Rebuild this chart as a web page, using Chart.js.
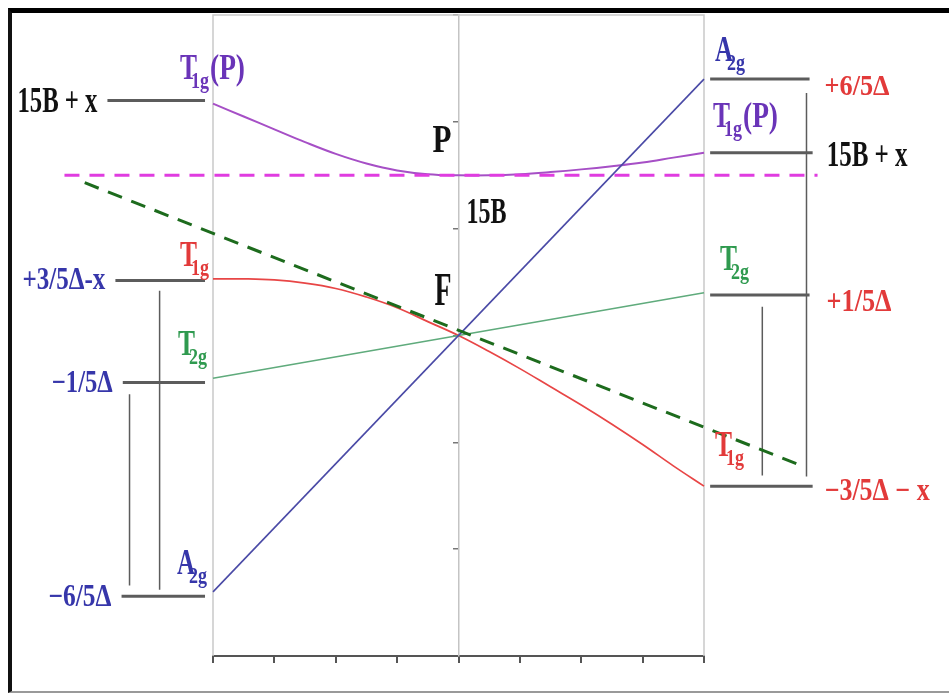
<!DOCTYPE html>
<html>
<head>
<meta charset="utf-8">
<script src="https://cdn.jsdelivr.net/npm/chart.js@4/dist/chart.umd.min.js"></script>
<style>
  html, body { margin: 0; padding: 0; background: #fff; overflow: hidden; }
  #wrap { position: relative; width: 949px; height: 694px; }
  #frame { position: absolute; left: 8px; top: 8px; right: -10px; bottom: 1px;
           border-top: 5px solid #000; border-left: 4px solid #111; border-bottom: 2px solid #999;
           pointer-events: none; }
  canvas { position: absolute; left: 0; top: 0; }
</style>
</head>
<body>
<div id="wrap">
  <canvas id="c" width="949" height="694"></canvas>
  <div id="frame"></div>
</div>
<script>
// Correlation diagram for a d2 ion: weak-field terms (F, P) on the centre,
// strong-field levels on both edges.

// ---- curves across the diagram ----
const sampleX = [-4, -3.5, -3, -2.5, -2, -1.5, -1, -0.5, 0, 0.5, 1, 1.5, 2, 2.5, 3, 3.5, 4];
const t1gP = [2.17, 2.05, 1.93, 1.81, 1.70, 1.61, 1.545, 1.51, 1.50, 1.50, 1.51, 1.53, 1.555, 1.585, 1.62, 1.665, 1.71];
const t1gF = [0.53, 0.53, 0.52, 0.49, 0.44, 0.36, 0.26, 0.13, 0, -0.15, -0.31, -0.48, -0.65, -0.83, -1.02, -1.22, -1.41];
const edgeX = [-4, 4];
const a2g = [-2.4, 2.4];
const t2g = [-0.4, 0.4];

// ---- reference lines ----
const weakFieldX = [-6.09, 5.64];
const weakFieldY = [1.43, -1.23];
const pTermX = [-6.42, 5.85];
const pTermY = 1.5;

// ---- levels on the left edge ----
const leftLevels = [2.20, 0.515, -0.44, -2.44];
const leftLevelFrom = [-5.72, -5.59, -5.47, -5.49];
const leftLevelTo = -4.13;
const leftLevelLabels = ['15B + x', '+3/5Δ-x', '−1/5Δ', '−6/5Δ'];

// ---- levels on the right edge ----
const rightLevels = [2.40, 1.71, 0.38, -1.41];
const rightLevelFrom = 4.10;
const rightLevelTo = [5.72, 5.77, 5.72, 5.77];
const rightLevelLabels = ['+6/5Δ', '15B + x', '+1/5Δ', '−3/5Δ − x'];

// ---- gap markers between levels ----
const leftGapX = [-4.87, -5.36];
const leftGapTop = [0.42, -0.55];
const leftGapBottom = [-2.38, -2.34];
const rightGapX = [5.67, 4.95];
const rightGapTop = [2.27, 0.27];
const rightGapBottom = [-1.32, -1.31];

// ---- term symbols ----
const leftTerms = [['T', '1g', '(P)'], ['T', '1g', ''], ['T', '2g', ''], ['A', '2g', '']];
const rightTerms = [['A', '2g', ''], ['T', '1g', '(P)'], ['T', '2g', ''], ['T', '1g', '']];
const centreLetters = ['P', '15B', 'F'];
const centreAnchors = [2, 1, 0];

// ---- colours ----
const C = {
  purpleLine: '#a64fc6', redLine: '#e84646', blueLine: '#4a4aa6', greenLine: '#5fab7c',
  dashGreen: '#1d6b1d', dashMagenta: '#e03ce0', level: '#5c5c5c',
  blue: '#3636aa', red: '#e23a3a', green: '#2f9a4f', purple: '#6a34b8', black: '#111'
};
const leftLevelColors = [C.black, C.blue, C.blue, C.blue];
const rightLevelColors = [C.red, C.black, C.red, C.red];
const leftTermColors = [C.purple, C.red, C.green, C.blue];
const rightTermColors = [C.blue, C.purple, C.green, C.red];

const pts = (xs, ys) => xs.map((x, i) => ({ x, y: Array.isArray(ys) ? ys[i] : ys }));
const seg = (x1, x2, y1, y2) => [{ x: x1, y: y1 }, { x: x2, y: y2 }];

const base = { pointRadius: 0, pointHoverRadius: 0, fill: false, clip: false, tension: 0 };
const datasets = [];

datasets.push({ ...base, label: 'P term', data: pts(pTermX, pTermY), borderColor: C.dashMagenta, borderWidth: 3, borderDash: [15, 10] });
datasets.push({ ...base, label: 'weak field', data: pts(weakFieldX, weakFieldY), borderColor: C.dashGreen, borderWidth: 3, borderDash: [15, 10] });
datasets.push({ ...base, label: 'A2g', data: pts(edgeX, a2g), borderColor: C.blueLine, borderWidth: 1.6 });
datasets.push({ ...base, label: 'T2g', data: pts(edgeX, t2g), borderColor: C.greenLine, borderWidth: 1.6 });
datasets.push({ ...base, label: 'T1g(F)', data: pts(sampleX, t1gF), borderColor: C.redLine, borderWidth: 1.7, tension: 0.4 });
datasets.push({ ...base, label: 'T1g(P)', data: pts(sampleX, t1gP), borderColor: C.purpleLine, borderWidth: 2, tension: 0.4 });

leftLevels.forEach((v, i) => datasets.push({ ...base, label: 'L' + i, data: seg(leftLevelFrom[i], leftLevelTo, v, v), borderColor: C.level, borderWidth: 3 }));
rightLevels.forEach((v, i) => datasets.push({ ...base, label: 'R' + i, data: seg(rightLevelFrom, rightLevelTo[i], v, v), borderColor: C.level, borderWidth: 3 }));
leftGapX.forEach((x, i) => datasets.push({ ...base, label: 'LG' + i, data: seg(x, x, leftGapTop[i], leftGapBottom[i]), borderColor: C.level, borderWidth: 1.5 }));
rightGapX.forEach((x, i) => datasets.push({ ...base, label: 'RG' + i, data: seg(x, x, rightGapTop[i], rightGapBottom[i]), borderColor: C.level, borderWidth: 1.5 }));

const FONT = '"Liberation Serif", "Times New Roman", serif';

// draws bold serif text squeezed to a given width, left edge at x, baseline at y
function squeezed(ctx, text, x, y, size, width, color) {
  if (!text) return;
  ctx.save();
  ctx.font = 'bold ' + size + 'px ' + FONT;
  const w = ctx.measureText(text).width;
  ctx.translate(x, y);
  ctx.scale(width / w, 1);
  ctx.fillStyle = color;
  ctx.textBaseline = 'alphabetic';
  ctx.textAlign = 'left';
  ctx.fillText(text, 0, 0);
  ctx.restore();
}

// term symbol such as T1g(P): main letter, subscript, optional tail
function termSymbol(ctx, parts, x, y, color) {
  const [main, sub, tail] = parts;
  const mw = main === 'A' ? 18 : 17;
  squeezed(ctx, main, x, y, 36, mw, color);
  squeezed(ctx, sub, x + mw - 6, y + 9, 23, 18, color);
  squeezed(ctx, tail, x + mw + 13, y, 36, 35, color);
}

const frameAndText = {
  id: 'frameAndText',
  beforeDatasetsDraw(chart) {
    const { ctx, chartArea: a } = chart;
    ctx.save();
    ctx.strokeStyle = '#c9c9c9';
    ctx.lineWidth = 1.5;
    ctx.beginPath();
    ctx.moveTo(a.left, a.bottom); ctx.lineTo(a.left, a.top);
    ctx.lineTo(a.right, a.top); ctx.lineTo(a.right, a.bottom);
    ctx.stroke();
    ctx.restore();
  },
  afterDatasetsDraw(chart) {
    const { ctx } = chart;
    const xs = chart.scales.x, ys = chart.scales.y;
    const X = v => xs.getPixelForValue(v), Y = v => ys.getPixelForValue(v);

    // value labels on the left, right-aligned before each level line
    const leftSpec = [[80, 36, 12], [83, 31, 9], [61, 31, 9], [63, 31, 10]];
    leftLevels.forEach((v, i) => {
      const [w, s, dy] = leftSpec[i];
      squeezed(ctx, leftLevelLabels[i], X(leftLevelFrom[i]) - 10 - w, Y(v) + dy, s, w, leftLevelColors[i]);
    });
    // value labels on the right, after each level line
    const rightSpec = [[65, 30, 16, 15], [81, 36, 13, 14], [65, 31, 16, 17], [105, 31, 14, 12]];
    rightLevels.forEach((v, i) => {
      const [w, s, dy, gap] = rightSpec[i];
      squeezed(ctx, rightLevelLabels[i], X(rightLevelTo[i]) + gap, Y(v) + dy, s, w, rightLevelColors[i]);
    });

    // term symbols next to the edges
    const leftOff = [[-33, -21], [-33, -14], [-35, -28], [-36, -22]];
    leftLevels.forEach((v, i) => termSymbol(ctx, leftTerms[i], X(-4) + leftOff[i][0], Y(v) + leftOff[i][1], leftTermColors[i]));
    const rightOff = [[11, -18], [9, -26], [16, -25], [11, -30]];
    rightLevels.forEach((v, i) => termSymbol(ctx, rightTerms[i], X(4) + rightOff[i][0], Y(v) + rightOff[i][1], rightTermColors[i]));

    // free-ion terms on the centre line
    const centreSpec = [[-26, 30, 40, 19], [8, -6, 36, 40], [-24, -31, 46, 17]];
    centreLetters.forEach((t, i) => {
      const [dx, dy, s, w] = centreSpec[i];
      squeezed(ctx, t, X(0) + dx, Y(centreAnchors[i]) + dy, s, w, C.black);
    });
  }
};

new Chart(document.getElementById('c'), {
  type: 'line',
  data: { datasets },
  options: {
    responsive: false,
    animation: false,
    devicePixelRatio: 1,
    events: [],
    layout: { padding: { left: 213, right: 245, top: 15, bottom: 31 } },
    plugins: { legend: { display: false }, tooltip: { enabled: false } },
    scales: {
      x: {
        type: 'linear', position: 'bottom', min: -4, max: 4,
        ticks: { display: false, stepSize: 1 },
        grid: { drawOnChartArea: false, drawTicks: true, tickLength: 7, color: '#555', lineWidth: 2 },
        border: { display: true, color: '#555', width: 2 }
      },
      y: {
        type: 'linear', position: { x: 0 }, min: -3, max: 3,
        ticks: { display: false, stepSize: 1 },
        grid: { drawOnChartArea: false, drawTicks: true, tickLength: 5, color: '#777', lineWidth: 1.5 },
        border: { display: true, color: '#c4c4c4', width: 1.5 }
      }
    }
  },
  plugins: [frameAndText]
});
</script>
</body>
</html>
